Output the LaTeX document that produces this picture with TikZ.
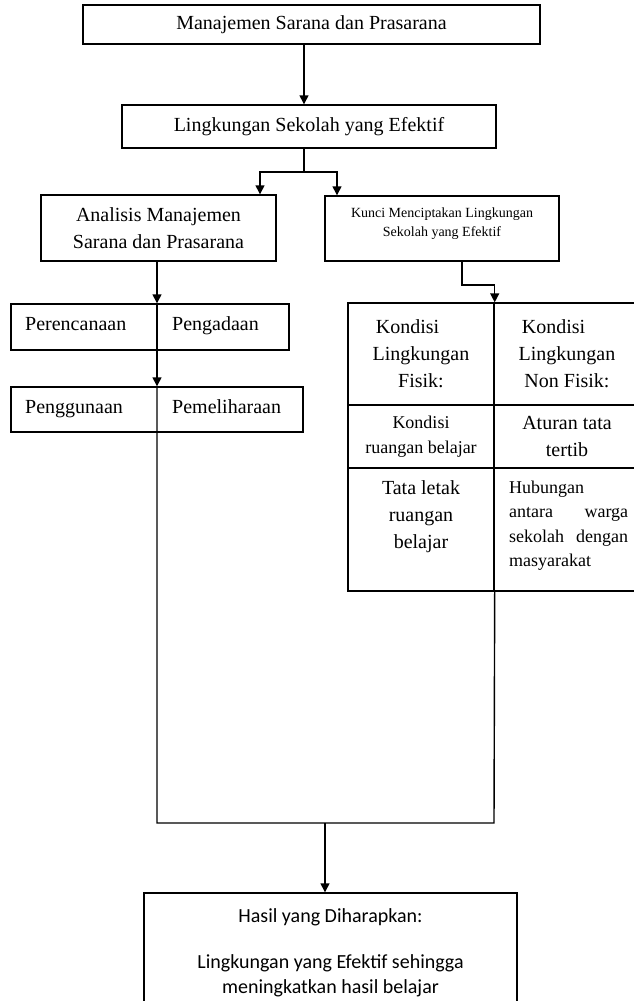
\documentclass[tikz,border=0pt]{standalone}
\usepackage{fontspec}
\setmainfont{Liberation Serif}
\newfontfamily\calibri{Carlito}
\usetikzlibrary{arrows.meta}
\newcommand\fsz[2]{\fontsize{#1}{#2}\selectfont}
\tikzset{
  box/.style={draw, line width=1.4pt, inner sep=0pt},
  txt/.style={inner sep=0pt},
  arr/.style={line width=1.4pt, -{Triangle[width=9pt,length=9pt]}},
  lnk/.style={line width=1.4pt},
}
\begin{document}
\begin{tikzpicture}[x=1pt,y=-1pt]
  \useasboundingbox (0,0) rectangle (634,1001);
  \clip (0,0) rectangle (634,1001);

  % Top boxes
  \node[box, minimum width=457pt, minimum height=39pt, font=\fsz{20}{27}] (msp) at (311.5,24.5) {Manajemen Sarana dan Prasarana};
  \node[box, minimum width=374pt, minimum height=43pt, font=\fsz{20}{27}] (lse) at (309,126.5) {Lingkungan Sekolah yang Efektif};
  \coordinate (spine) at (304,172);
  \draw[arr] (msp.south -| spine) -- (lse.north -| spine);

  % Two branches
  \node[box, minimum width=235pt, minimum height=66pt, align=center, font=\fsz{20}{27}] (anal) at (158.5,228) {Analisis Manajemen\\Sarana dan Prasarana};
  \node[box, minimum width=234pt, minimum height=65pt] (kunci) at (442,228.5) {};
  \node[txt, align=center, font=\fsz{14}{19}] (kuncitxt) at ([yshift=5pt]kunci.center) {Kunci Menciptakan Lingkungan\\Sekolah yang Efektif};
  \coordinate (fl) at (260,172);
  \coordinate (fr) at (337,172);
  \draw[lnk] (lse.south -| spine) -- (spine);
  \draw[arr] (spine) -| (fl |- anal.north);
  \draw[arr] (spine) -| (fr |- kunci.north);

  % Left column
  \node[box, minimum width=278pt, minimum height=46pt] (perenc) at (150,327) {};
  \node[txt, anchor=base west, font=\fsz{20}{27}] (prc) at (25,330) {Perencanaan};
  \node[txt, anchor=base west, font=\fsz{20}{27}] (pgd) at (172,330) {Pengadaan};
  \node[box, minimum width=292pt, minimum height=45pt] (pengg) at (157,409.5) {};
  \node[txt, anchor=base west, font=\fsz{20}{27}] (pgn) at (25,413) {Penggunaan};
  \node[txt, anchor=base west, font=\fsz{20}{27}] (pml) at (172,413) {Pemeliharaan};

  % Right table
  \node[box, minimum width=146pt, minimum height=102pt, align=center, font=\fsz{20}{27}] (fisik) at (421,354) {Kondisi\hspace{27pt}\mbox{}\\Lingkungan\\Fisik:};
  \node[box, minimum width=146pt, minimum height=102pt, align=center, font=\fsz{20}{27}] (nonfisik) at (567,354) {Kondisi\hspace{27pt}\mbox{}\\Lingkungan\\Non Fisik:};
  \node[box, minimum width=146pt, minimum height=63pt, align=center, font=\fsz{18}{25}] (ruang) at (421,436.5) {Kondisi\\ruangan belajar};
  \node[box, minimum width=146pt, minimum height=63pt, align=center, font=\fsz{20}{27}] (tertib) at (567,436.5) {Aturan tata\\tertib};
  \node[box, minimum width=146pt, minimum height=123pt] (tata) at (421,529.5) {};
  \node[box, minimum width=146pt, minimum height=123pt] (hub) at (567,529.5) {};
  \node[txt, anchor=north, align=center, font=\fsz{20}{27}] (tatatxt) at (421,480.5) {Tata letak\\ruangan\\belajar};
  \node[txt, anchor=north west, align=left, text width=119pt, font=\fsz{18}{24.5}] (hubtxt) at (509,480.5) {Hubungan\\antara\hfill warga\\sekolah\hfill dengan\\masyarakat};
  \coordinate (kx) at (462,285);
  \draw[arr] (kunci.south -| kx) -- (kx) -| (fisik.north east);

  % Joining lines
  \coordinate (ln) at (157,823);
  \coordinate (rn) at (494,823);
  \coordinate (mx) at (325,823);
  \draw[arr] (anal.south -| ln) -- (perenc.north -| ln);
  \draw[arr] (perenc.north -| ln) -- (pengg.north -| ln);
  \draw[lnk] (pengg.north -| ln) -- (ln) -- (rn) -- (tata.south east);

  % Result
  \node[box, minimum width=373pt, minimum height=120pt, align=center, font=\calibri\fsz{20}{25}] (hasil) at (330.5,953) {Hasil yang Diharapkan:\\[21pt]Lingkungan yang Efektif sehingga\\meningkatkan hasil belajar};
  \draw[arr] (mx) -- (mx |- hasil.north);

\end{tikzpicture}
\end{document}
